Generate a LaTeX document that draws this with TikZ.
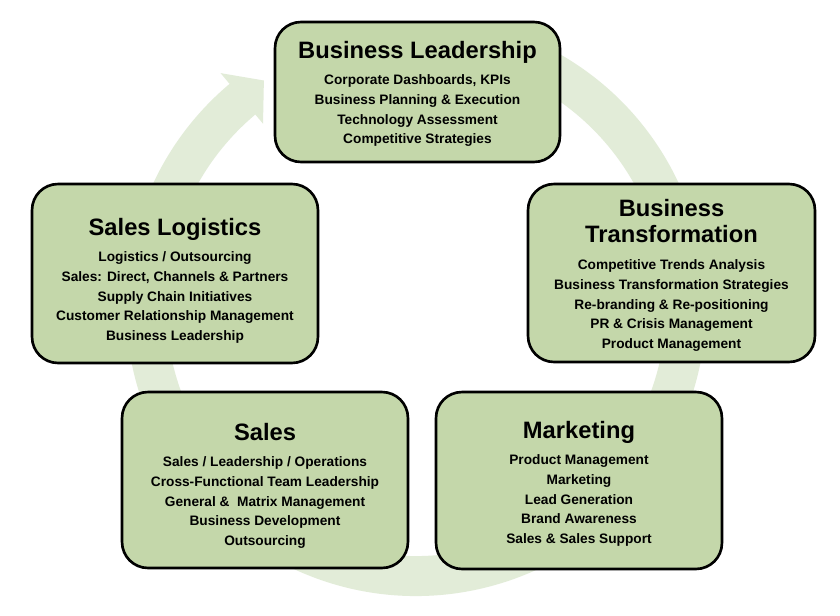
\documentclass[tikz,border=0pt]{standalone}
\usepackage{fontspec}
\setmainfont{Liberation Sans}
\usepackage{xcolor}
\usepackage{tikz}
\usetikzlibrary{positioning, calc}

\definecolor{boxgreen}{RGB}{196,215,170}
\definecolor{ringgreen}{RGB}{226,236,216}
\newcommand{\headfont}{\bfseries\fontsize{13.5}{14.7}\selectfont}
\newcommand{\itemfont}{\bfseries\fontsize{7.8}{11.2}\selectfont}

\begin{document}
\begin{tikzpicture}[x=0.02cm, y=-0.02cm,
		area/.style={draw=black, line width=1.5pt, fill=boxgreen, rounded corners=0.52cm, inner sep=0pt},
		head/.style={font=\headfont, align=center, inner sep=0pt, anchor=base},
		items/.style={font=\itemfont, align=center, inner sep=0pt},
		ring/.style={draw=ringgreen, line width=0.8cm}]
			% Background and cycle arrow:
			\fill[white] (0,0) rectangle (840,616);
			\useasboundingbox (0,0) rectangle (840,616);
			\coordinate (ringc) at (416,306);
			\draw[ring] ($(ringc)+(-65:270)$) arc[start angle=-65, end angle=230.5, radius=270];
			\fill[ringgreen] ($(ringc)+(230:238)$) -- ($(ringc)+(236:272)$) -- ($(ringc)+(230:304)$) -- cycle;
			% Boxes, titles and lists:
			\node[area, minimum width=5.7cm, minimum height=2.8cm](lead) at (417.5, 92){};
			\node[head](leadT) at (417.5, 58){Business Leadership};
			\node[items, below=9.4pt of leadT.base](leadL){Corporate Dashboards, KPIs\\Business Planning \& Execution\\Technology Assessment\\Competitive Strategies};
			\node[area, minimum width=5.72cm, minimum height=3.58cm](logi) at (175, 273.5){};
			\node[head](logiT) at (175, 235){Sales Logistics};
			\node[items, below=9.4pt of logiT.base](logiL){Logistics / Outsourcing\\Sales: Direct, Channels \& Partners\\Supply Chain Initiatives\\Customer Relationship Management\\Business Leadership};
			\node[area, minimum width=5.74cm, minimum height=3.56cm](trans) at (671.5, 273){};
			\node[head, anchor=south](transT) at (671.5, 243){Business\\Transformation};
			\node[items, below=9.4pt of transT.south](transL){Competitive Trends Analysis\\Business Transformation Strategies\\Re-branding \& Re-positioning\\PR \& Crisis Management\\Product Management};
			\node[area, minimum width=5.72cm, minimum height=3.52cm](sales) at (265, 480){};
			\node[head](salesT) at (265, 440){Sales};
			\node[items, below=9.4pt of salesT.base](salesL){Sales / Leadership / Operations\\Cross-Functional Team Leadership\\General \&~ Matrix Management\\Business Development\\Outsourcing};
			\node[area, minimum width=5.72cm, minimum height=3.54cm](mark) at (579, 480.5){};
			\node[head](markT) at (579, 438){Marketing};
			\node[items, below=9.4pt of markT.base](markL){Product Management\\Marketing\\Lead Generation\\Brand Awareness\\Sales \& Sales Support};
		\end{tikzpicture}
\end{document}
